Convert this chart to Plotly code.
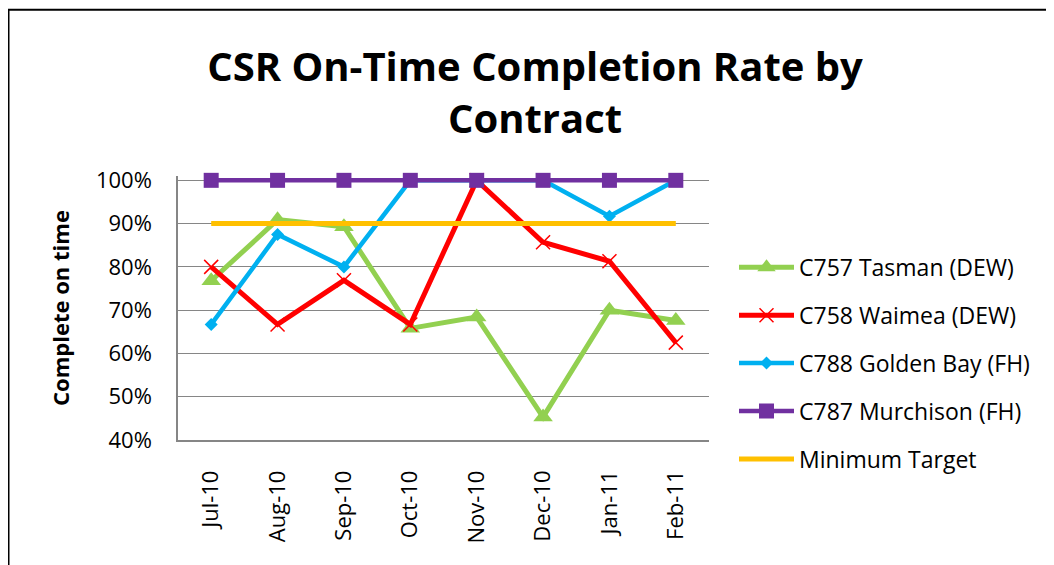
import plotly.graph_objects as go

months = ["Jul-10", "Aug-10", "Sep-10", "Oct-10", "Nov-10", "Dec-10", "Jan-11", "Feb-11"]
tasman = [0.768, 0.909, 0.893, 0.658, 0.684, 0.453, 0.700, 0.676]
waimea = [0.800, 0.667, 0.769, 0.667, 1.000, 0.857, 0.813, 0.625]
golden_bay = [0.667, 0.875, 0.800, 1.000, 1.000, 1.000, 0.917, 1.000]
murchison = [1.000, 1.000, 1.000, 1.000, 1.000, 1.000, 1.000, 1.000]
target = [0.90, 0.90, 0.90, 0.90, 0.90, 0.90, 0.90, 0.90]

# page has an 8px body margin, so the figure is sized to the remaining window
W, H = 1046, 557
ML, MR, MT, MB = 170, 345, 168, 124.5
PW, PH = W - ML - MR, H - MT - MB
FONT = "Open Sans"

common = dict(mode="lines+markers", cliponaxis=False)
fig = go.Figure()
fig.add_trace(go.Scatter(
    x=months, y=tasman, name="C757 Tasman (DEW)", legendgroup="a", **common,
    line=dict(color="#92D050", width=5),
    marker=dict(symbol="triangle-up", size=17, color="#92D050")))
fig.add_trace(go.Scatter(
    x=months, y=waimea, name="C758 Waimea (DEW)", legendgroup="b", **common,
    line=dict(color="#FF0000", width=5),
    marker=dict(symbol="x-thin", size=14, color="#FF0000", line=dict(color="#FF0000", width=1.5))))
fig.add_trace(go.Scatter(
    x=months, y=golden_bay, name="C788 Golden Bay (FH)", legendgroup="c", **common,
    line=dict(color="#00B0F0", width=4.5),
    marker=dict(symbol="diamond", size=10, color="#00B0F0")))
fig.add_trace(go.Scatter(
    x=months, y=murchison, name="C787 Murchison (FH)", legendgroup="d", **common,
    line=dict(color="#7030A0", width=4.5),
    marker=dict(symbol="square", size=15, color="#7030A0")))
fig.add_trace(go.Scatter(
    x=months, y=target, name="Minimum Target", legendgroup="e", mode="lines",
    line=dict(color="#FFC000", width=5)))

# outer chart border
fig.add_shape(type="rect", xref="paper", yref="paper",
              x0=(0.5 - ML) / PW, x1=(W + 10 - ML) / PW,
              y0=(H - MB - (H + 10)) / PH, y1=(H - MB - 1.5) / PH,
              line=dict(color="#000000", width=2), fillcolor="rgba(0,0,0,0)", layer="below")

fig.update_layout(
    width=W, height=H,
    margin=dict(l=ML, r=MR, t=MT, b=MB, autoexpand=False),
    paper_bgcolor="white", plot_bgcolor="white",
    font=dict(family=FONT, color="#000000", size=22),
    title=dict(text="CSR On-Time Completion Rate by<br>Contract",
               font=dict(family=FONT, size=40, color="#000000", weight="bold"),
               x=(535 - 8) / W, xref="container", xanchor="center",
               y=1 - 73 / H, yref="container", yanchor="top"),
    showlegend=True,
    legend=dict(x=(734 - 8 - ML) / PW, xanchor="left", y=(H - MB - 238) / PH, yanchor="top",
                font=dict(family=FONT, size=23, color="#000000"),
                traceorder="grouped", tracegroupgap=15, itemwidth=55,
                bgcolor="rgba(0,0,0,0)"),
    xaxis=dict(type="category", range=[-0.5, 7.5], showline=True, linecolor="#868686",
               linewidth=1.5, showgrid=False, ticks="", tickangle=-90,
               ticklabelstandoff=20, tickfont=dict(size=22), fixedrange=True),
    yaxis=dict(range=[0.4, 1.01], tickvals=[0.4, 0.5, 0.6, 0.7, 0.8, 0.9, 1.0],
               tickformat=".0%", showline=True,
               linecolor="#868686", linewidth=1.5, showgrid=True, gridcolor="#868686",
               gridwidth=1.2, zeroline=False, ticks="", ticklabelstandoff=20,
               tickfont=dict(size=22),
               title=dict(text="Complete on time", font=dict(size=22, weight="bold"),
                          standoff=20)),
)

fig.write_html("out.html")
